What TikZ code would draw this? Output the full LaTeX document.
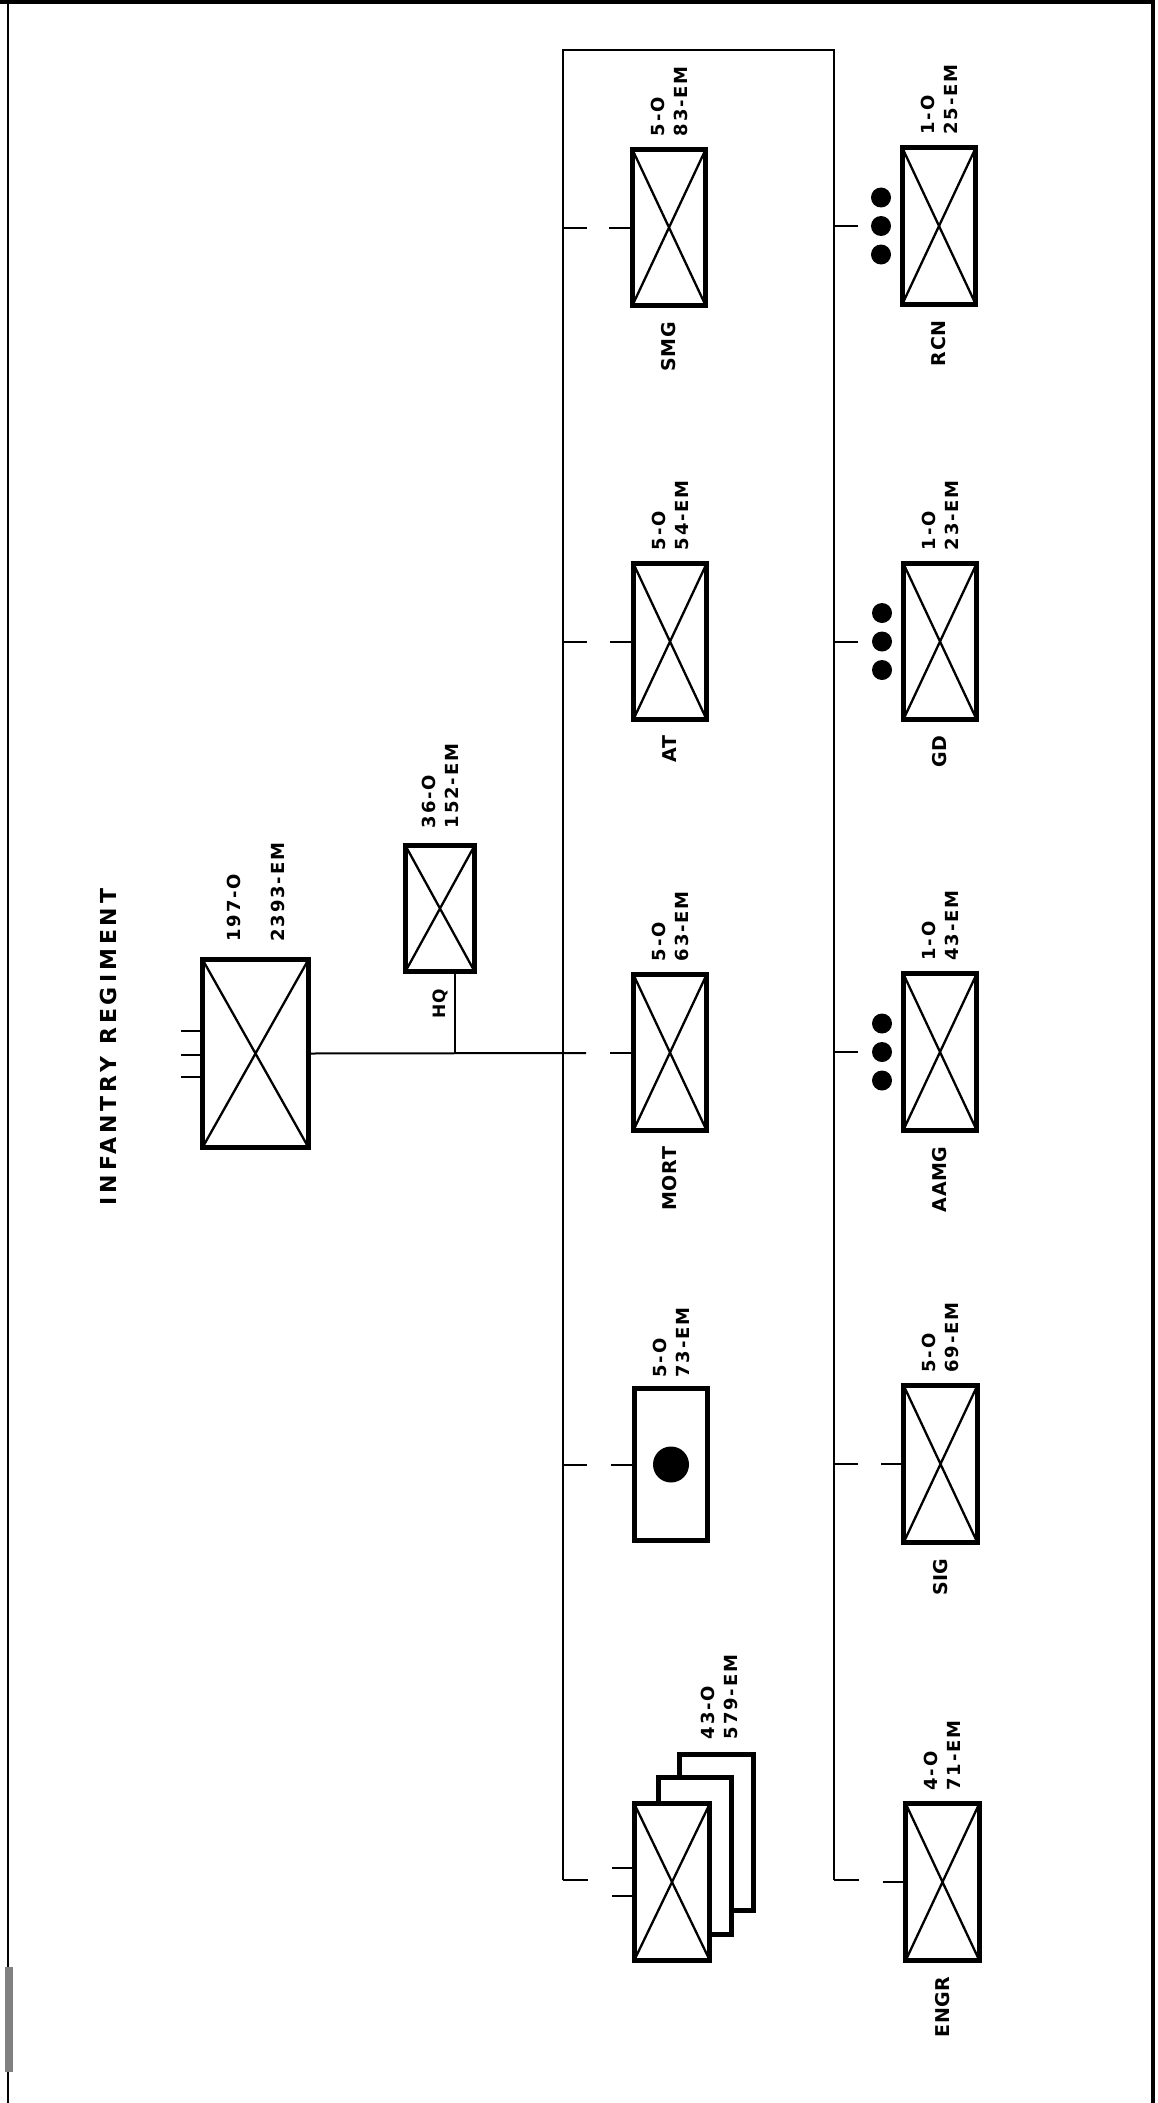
\documentclass[tikz,border=0pt]{standalone}
\usepackage{fontspec}
\setmainfont{DejaVu Sans}
\newfontfamily\numfont[LetterSpace=10]{DejaVu Sans Bold}
\newfontfamily\unitfont[LetterSpace=3]{DejaVu Sans Bold}
\newfontfamily\titlefont[LetterSpace=18]{DejaVu Sans Bold}
\begin{document}
\begin{tikzpicture}[x=1pt,y=-1pt,
  unitbox/.style={draw, line width=5pt, fill=white, minimum width=73.5pt, minimum height=156.5pt, inner sep=0pt, outer sep=0pt},
  crossed/.style={path picture={\draw[line width=2.3pt] (path picture bounding box.north west) -- (path picture bounding box.south east) (path picture bounding box.south west) -- (path picture bounding box.north east);}},
  bus/.style={line width=2pt},
  nums/.style={rotate=90, anchor=west, align=left, font=\numfont\fontsize{18}{23}\selectfont, inner sep=0pt},
  unitname/.style={rotate=90, anchor=east, font=\unitfont\fontsize{19}{23}\selectfont, inner sep=0pt},
  dotmark/.style={circle, fill=black, minimum size=20pt, inner sep=0pt}
]
\useasboundingbox (0,0) rectangle (1157,2103);
% frame of the sheet
\draw[line width=4pt] (0,2) -- (1153,2) -- (1153,2103);
\draw[line width=2.5pt] (8,0) -- (8,2103);
\fill[gray] (5,1967) rectangle (13,2072);

% title
\node[rotate=90, font=\titlefont\fontsize{22}{26}\selectfont, inner sep=0pt] (title) at (108,1047) {INFANTRY REGIMENT};

% regiment and HQ
\node[unitbox, crossed, minimum width=106pt, minimum height=188pt, line width=5.5pt] (reg) at (255.5,1053.5) {};
\node[unitbox, crossed, minimum width=69.5pt, minimum height=126.5pt] (hq) at (440,908.5) {};
\node[nums, font=\numfont\fontsize{18}{44}\selectfont, xshift=4pt] (regnums) at ([yshift=14pt]reg.north) {197-O\\2393-EM};
\node[nums] (hqnums) at ([yshift=17pt]hq.north) {36-O\\152-EM};
\node[rotate=90, font=\unitfont\fontsize{17}{20}\selectfont, inner sep=0pt] (hqname) at (440,1004) {HQ};
\foreach \s in {22.5,-1.5,-23.5}
  \draw[bus] ([yshift=\s pt]reg.west) -- ++(-22,0);

% buses
\coordinate (b1top) at (563,50);
\coordinate (b1bot) at (563,1880);
\coordinate (b2top) at (834,50);
\coordinate (b2bot) at (834,1880);
\coordinate (mainend) at (586,1053);
\draw[bus] (b1bot) -- (b1top) -- (b2top) -- (b2bot);
\draw[bus] (b1bot) -- ++(25,0);
\draw[bus] (b2bot) -- ++(25,0);
\draw[bus] (reg.east) -- (mainend);
\draw[bus] ([xshift=15pt]hq.south) -- ([xshift=15pt]hq.south |- reg.east);

% column 1
\node[unitbox, crossed] (smg) at (669,227.5) {};
\node[unitbox, crossed] (at) at (670,641.5) {};
\node[unitbox, crossed] (mort) at (670,1052.5) {};
\node[unitbox, minimum height=152pt] (cn) at (671,1464.5) {};
\node[circle, fill=black, minimum size=36pt, inner sep=0pt] (cndot) at (cn.center) {};
\node[unitbox] (bn3) at (716.5,1832.5) {};
\node[unitbox] (bn2) at (695,1856) {};
\node[unitbox, crossed, minimum width=75.5pt] (bn1) at (672,1882) {};

\foreach \b in {smg,at,cn}
  \draw[bus] (b1top |- \b.west) -- ++(24,0);
\foreach \b in {smg,at,mort,cn}
  \draw[bus] (\b.west) -- ++(-23,0);
\draw[bus] ([yshift=14pt]bn1.west) -- ++(-22,0);
\draw[bus] ([yshift=-14pt]bn1.west) -- ++(-22,0);

\node[nums] (smgnums) at ([yshift=13pt]smg.north) {5-O\\83-EM};
\node[nums] (atnums) at ([yshift=13pt]at.north) {5-O\\54-EM};
\node[nums] (mortnums) at ([yshift=13pt]mort.north) {5-O\\63-EM};
\node[nums] (cnnums) at ([yshift=11pt]cn.north) {5-O\\73-EM};
\node[nums] (bnnums) at ([yshift=15pt,xshift=3pt]bn3.north) {43-O\\579-EM};
\node[unitname] (smgname) at ([yshift=-16pt]smg.south) {SMG};
\node[unitname] (atname) at ([yshift=-16pt]at.south) {AT};
\node[unitname] (mortname) at ([yshift=-16pt]mort.south) {MORT};

% column 2
\node[unitbox, crossed] (rcn) at (939,226) {};
\node[unitbox, crossed] (gd) at (940,641.5) {};
\node[unitbox, crossed] (aamg) at (940,1052) {};
\node[unitbox, crossed] (sig) at (940.5,1464) {};
\node[unitbox, crossed] (engr) at (942.5,1882) {};

\foreach \b in {rcn,gd,aamg,sig}
  \draw[bus] (b2top |- \b.west) -- ++(24,0);
\foreach \b in {sig,engr}
  \draw[bus] (\b.west) -- ++(-23,0);
\foreach \b in {rcn,gd,aamg}{
  \node[dotmark] (\b d1) at ([xshift=-58pt,yshift=28.5pt]\b.center) {};
  \node[dotmark] (\b d2) at ([xshift=-58pt]\b.center) {};
  \node[dotmark] (\b d3) at ([xshift=-58pt,yshift=-28.5pt]\b.center) {};
}

\node[nums] (rcnnums) at ([yshift=13pt]rcn.north) {1-O\\25-EM};
\node[nums] (gdnums) at ([yshift=13pt]gd.north) {1-O\\23-EM};
\node[nums] (aamgnums) at ([yshift=13pt]aamg.north) {1-O\\43-EM};
\node[nums] (signums) at ([yshift=13pt]sig.north) {5-O\\69-EM};
\node[nums] (engrnums) at ([yshift=13pt]engr.north) {4-O\\71-EM};
\node[unitname] (rcnname) at ([yshift=-16pt]rcn.south) {RCN};
\node[unitname] (gdname) at ([yshift=-16pt]gd.south) {GD};
\node[unitname] (aamgname) at ([yshift=-16pt]aamg.south) {AAMG};
\node[unitname] (signame) at ([yshift=-16pt]sig.south) {SIG};
\node[unitname] (engrname) at ([yshift=-16pt]engr.south) {ENGR};
\end{tikzpicture}
\end{document}
